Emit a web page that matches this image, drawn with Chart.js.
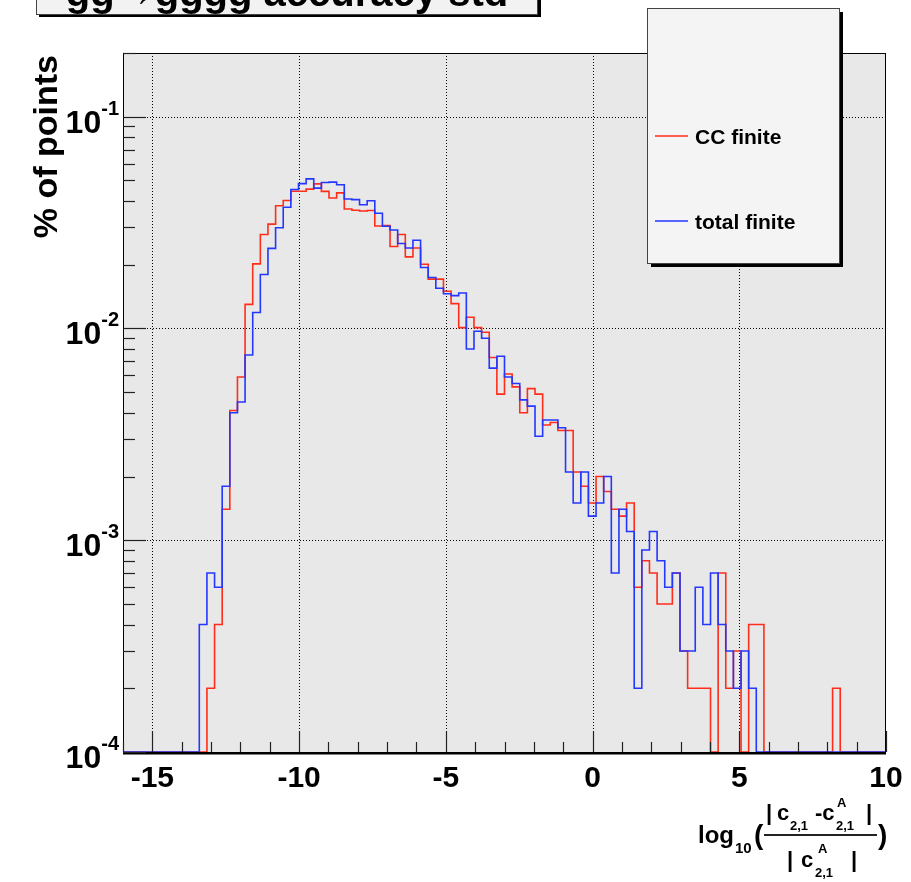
<!DOCTYPE html>
<html>
<head>
<meta charset="utf-8">
<script src="https://cdn.jsdelivr.net/npm/chart.js@4.4.1/dist/chart.umd.min.js"></script>
<style>
  html, body { margin: 0; padding: 0; background: #fff; }
  #wrap { width: 911px; height: 882px; }
</style>
</head>
<body>
<div id="wrap"><canvas id="c" width="911" height="882"></canvas></div>
<script>
// histogram binning (100 bins between -16 and 10)
var xMin = -16, xMax = 10, nBins = 100;
var yMin = 1e-4, yMax = 0.2;

// bin contents (0 = empty bin)
var ccFinite = [
  0, 0, 0, 0, 0, 0, 0, 0, 0, 0,
  0, 0.0002, 0.0004, 0.0014, 0.0041, 0.0059, 0.0130, 0.0202, 0.0278, 0.0311,
  0.0380, 0.0402, 0.0445, 0.0445, 0.0455, 0.0482, 0.0444, 0.0413, 0.0437, 0.0367,
  0.0362, 0.0359, 0.0361, 0.0305, 0.0306, 0.0244, 0.0278, 0.0218, 0.0240, 0.0201,
  0.0171, 0.0171, 0.0150, 0.0131, 0.0101, 0.0113, 0.0101, 0.0096, 0.0073, 0.0049,
  0.0061, 0.0053, 0.0040, 0.0052, 0.0049, 0.0035, 0.0036, 0.0033, 0.0033, 0.0021,
  0.0018, 0.0015, 0.0020, 0.0017, 0.0014, 0.0013, 0.0015, 0.0006, 0.0008, 0.0007,
  0.0005, 0.0005, 0.0007, 0.0003, 0.0002, 0.0002, 0.0002, 0, 0.0007, 0.0002,
  0.0003, 0, 0.0004, 0.0004, 0, 0, 0, 0, 0, 0,
  0, 0, 0, 0.0002, 0, 0, 0, 0, 0, 0
];
var totalFinite = [
  0, 0, 0, 0, 0, 0, 0, 0, 0, 0,
  0.0004, 0.0007, 0.0006, 0.0018, 0.0040, 0.0045, 0.0075, 0.0119, 0.0180, 0.0239,
  0.0299, 0.0374, 0.0453, 0.0483, 0.0509, 0.0460, 0.0489, 0.0491, 0.0477, 0.0409,
  0.0406, 0.0384, 0.0401, 0.0350, 0.0304, 0.0292, 0.0252, 0.0240, 0.0261, 0.0194,
  0.0174, 0.0155, 0.0146, 0.0143, 0.0147, 0.0080, 0.0097, 0.0090, 0.0065, 0.0074,
  0.0059, 0.0055, 0.0046, 0.0043, 0.0031, 0.0037, 0.0037, 0.0034, 0.0021, 0.0015,
  0.0021, 0.0013, 0.0015, 0.0020, 0.0007, 0.0014, 0.0011, 0.0002, 0.0009, 0.0011,
  0.0008, 0.0006, 0.0007, 0.0003, 0.0003, 0.0006, 0.0004, 0.0007, 0.0004, 0.0003,
  0.0002, 0.0003, 0.0002, 0, 0, 0, 0, 0, 0, 0,
  0, 0, 0, 0, 0, 0, 0, 0, 0, 0
];

var xTickLabels = [-15, -10, -5, 0, 5, 10];
var yDecades = [-4, -3, -2, -1];
var seriesNames = ['CC finite', 'total finite'];
var titleText = 'gg\u2192gggg accuracy std';

var RED = 'rgb(255,45,25)';
var BLUE = 'rgb(35,55,255)';
var FONT = '"Liberation Sans", Arial, Helvetica, sans-serif';

// histogram -> step points at the left edge of every bin, plus the closing edge
function histPoints(vals) {
  var w = (xMax - xMin) / nBins;
  var pts = vals.map(function (v, i) {
    return { x: xMin + i * w, y: v > 0 ? v : yMin };
  });
  pts.push({ x: xMax, y: yMin });
  return pts;
}

function bold(px) { return 'bold ' + px + 'px ' + FONT; }

// ROOT-like frame: grey pad, dotted grid, inner ticks, labels, boxes
var rootFrame = {
  id: 'rootFrame',
  beforeDatasetsDraw: function (chart) {
    var ctx = chart.ctx, a = chart.chartArea;
    var xs = chart.scales.x, ys = chart.scales.y;
    ctx.save();
    ctx.fillStyle = '#e8e8e8';
    ctx.fillRect(a.left, a.top, a.right - a.left, a.bottom - a.top);

    ctx.strokeStyle = '#000';
    ctx.lineWidth = 1;
    ctx.setLineDash([1, 2]);
    xTickLabels.forEach(function (v) {
      var px = Math.round(xs.getPixelForValue(v)) + 0.5;
      if (px > a.right - 2) return;
      ctx.beginPath();
      ctx.moveTo(px, a.top);
      ctx.lineTo(px, a.bottom);
      ctx.stroke();
    });
    yDecades.forEach(function (e) {
      var py = Math.round(ys.getPixelForValue(Math.pow(10, e))) + 0.5;
      if (py > a.bottom - 2) return;
      ctx.beginPath();
      ctx.moveTo(a.left, py);
      ctx.lineTo(a.right, py);
      ctx.stroke();
    });
    ctx.restore();
  },
  afterDatasetsDraw: function (chart) {
    var ctx = chart.ctx, a = chart.chartArea;
    var xs = chart.scales.x, ys = chart.scales.y;
    ctx.save();

    // frame
    ctx.strokeStyle = '#000';
    ctx.lineWidth = 1;
    ctx.strokeRect(a.left + 0.5, a.top + 0.5, a.right - a.left - 1, a.bottom - a.top);
    ctx.lineWidth = 2;
    ctx.beginPath();
    ctx.moveTo(a.left, a.bottom + 1.5);
    ctx.lineTo(a.right, a.bottom + 1.5);
    ctx.stroke();

    // x ticks: every unit, longer every 5
    ctx.lineWidth = 1.2;
    ctx.strokeStyle = '#222';
    for (var v = Math.ceil(xMin); v <= xMax; v++) {
      var px = Math.round(xs.getPixelForValue(v)) + 0.5;
      var len = (v % 5 === 0) ? 21 : 10;
      ctx.beginPath();
      ctx.moveTo(px, a.bottom);
      ctx.lineTo(px, a.bottom - len);
      ctx.stroke();
    }
    // y ticks: log decades, 2..9 minor
    yDecades.forEach(function (e) {
      for (var m = 1; m <= 9; m++) {
        var val = m * Math.pow(10, e);
        if (val > yMax * 1.0001) break;
        var py = Math.round(ys.getPixelForValue(val)) + 0.5;
        var len = (m === 1) ? 23 : 12;
        ctx.beginPath();
        ctx.moveTo(a.left, py);
        ctx.lineTo(a.left + len, py);
        ctx.stroke();
      }
    });

    // x tick labels
    ctx.fillStyle = '#000';
    ctx.font = bold(30);
    ctx.textAlign = 'center';
    ctx.textBaseline = 'alphabetic';
    xTickLabels.forEach(function (v) {
      ctx.fillText(String(v), xs.getPixelForValue(v), a.bottom + 35);
    });

    // y tick labels 10^e
    yDecades.forEach(function (e) {
      var py = ys.getPixelForValue(Math.pow(10, e));
      var sup = String(e);
      ctx.font = bold(20);
      var supW = ctx.measureText(sup).width;
      var right = a.left - 4;
      ctx.textAlign = 'left';
      ctx.fillText(sup, right - supW, py - 2);
      ctx.font = bold(32);
      ctx.textAlign = 'right';
      ctx.fillText('10', right - supW, py + 16);
    });

    // y axis title
    ctx.save();
    ctx.translate(57, a.top + 2);
    ctx.rotate(-Math.PI / 2);
    ctx.font = bold(34);
    ctx.textAlign = 'right';
    ctx.fillText('% of points', 0, 0);
    ctx.restore();

    // x axis title: log10( |c21 - cA21| / |cA21| )
    ctx.textAlign = 'left';
    ctx.font = bold(24);
    ctx.fillText('log', 698, 843);
    ctx.font = bold(15);
    ctx.fillText('10', 735, 853);
    ctx.font = bold(28);
    ctx.fillText('(', 754, 844);
    ctx.fillText(')', 878, 844);
    ctx.lineWidth = 2;
    ctx.beginPath();
    ctx.moveTo(764, 835);
    ctx.lineTo(877, 835);
    ctx.stroke();
    // numerator
    ctx.font = bold(22);
    ctx.fillText('|', 766, 820);
    ctx.fillText('c', 777, 820);
    ctx.fillText('-c', 815, 820);
    ctx.fillText('|', 866, 820);
    ctx.font = bold(13);
    ctx.fillText('2,1', 790, 830);
    ctx.fillText('A', 837, 807);
    ctx.fillText('2,1', 836, 830);
    // denominator
    ctx.font = bold(22);
    ctx.fillText('|', 787, 867);
    ctx.fillText('c', 801, 867);
    ctx.fillText('|', 851, 867);
    ctx.font = bold(13);
    ctx.fillText('A', 818, 853);
    ctx.fillText('2,1', 815, 877);

    ctx.restore();
  },
  afterDraw: function (chart) {
    var ctx = chart.ctx;
    ctx.save();
    // title box, cut by the top edge
    ctx.fillStyle = '#000';
    ctx.fillRect(39, -20, 502, 37);
    ctx.fillStyle = '#f2f2f2';
    ctx.fillRect(36, -20, 502, 34);
    ctx.strokeStyle = '#444';
    ctx.lineWidth = 1;
    ctx.strokeRect(36.5, -20, 501, 34.5);
    ctx.fillStyle = '#000';
    ctx.font = bold(40);
    ctx.textAlign = 'center';
    ctx.textBaseline = 'alphabetic';
    ctx.fillText(titleText, 287, 6);

    // legend box with shadow
    var lx = 647, ly = 8, lw = 192, lh = 255;
    ctx.fillStyle = '#000';
    ctx.fillRect(lx + 4, ly + 4, lw, lh);
    ctx.fillStyle = '#f4f4f4';
    ctx.fillRect(lx, ly, lw, lh);
    ctx.strokeStyle = '#444';
    ctx.strokeRect(lx + 0.5, ly + 0.5, lw, lh);
    var colors = [RED, BLUE];
    var rows = [136, 221];
    ctx.font = bold(21);
    ctx.textAlign = 'left';
    seriesNames.forEach(function (name, i) {
      ctx.strokeStyle = colors[i];
      ctx.lineWidth = 1.5;
      ctx.beginPath();
      ctx.moveTo(655, rows[i]);
      ctx.lineTo(688, rows[i]);
      ctx.stroke();
      ctx.fillStyle = '#000';
      ctx.fillText(name, 695, rows[i] + 8);
    });
    ctx.restore();
  }
};

var chart = new Chart(document.getElementById('c'), {
  type: 'line',
  data: {
    datasets: [{
      label: seriesNames[1],
      data: histPoints(totalFinite),
      borderColor: BLUE,
      borderWidth: 1.6,
      stepped: 'before',
      pointRadius: 0,
      fill: false,
      order: 0
    }, {
      label: seriesNames[0],
      data: histPoints(ccFinite),
      borderColor: RED,
      borderWidth: 1.6,
      stepped: 'before',
      pointRadius: 0,
      fill: false,
      order: 1
    }]
  },
  options: {
    responsive: false,
    animation: false,
    devicePixelRatio: 1,
    layout: { padding: { left: 123, right: 25, top: 53, bottom: 130 } },
    plugins: { legend: { display: false }, tooltip: { enabled: false }, title: { display: false } },
    scales: {
      x: { type: 'linear', min: xMin, max: xMax, display: false },
      y: { type: 'logarithmic', min: yMin, max: yMax, display: false }
    }
  },
  plugins: [rootFrame]
});
</script>
</body>
</html>
